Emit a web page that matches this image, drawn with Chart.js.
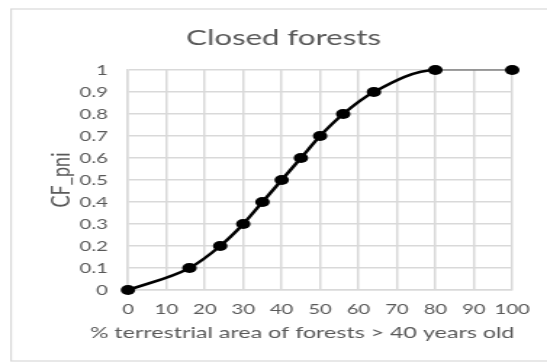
<!DOCTYPE html>
<html>
<head>
<meta charset="utf-8">
<script src="https://cdn.jsdelivr.net/npm/chart.js@4/dist/chart.umd.min.js"></script>
<style>
  html, body { margin: 0; padding: 0; background: #ffffff; overflow: hidden; }
  /* the chart is laid out on a narrower canvas and widened to 547px */
  #wrap { position: absolute; left: 0; top: 0; width: 377px; height: 363px;
          transform: scaleX(1.451); transform-origin: 0 0; }
  #c { display: block; }
</style>
</head>
<body>
<div id="wrap"><canvas id="c" width="377" height="363"></canvas></div>
<script>
// Share of terrestrial forest area older than 40 years vs. the CF_pni index
const ageShare = [0, 16, 24, 30, 35, 40, 45, 50, 56, 64, 80, 100];
const cfPni    = [0, 0.1, 0.2, 0.3, 0.4, 0.5, 0.6, 0.7, 0.8, 0.9, 1, 1];

const xTicks = { min: 0, max: 100, step: 10 };
const yTicks = { min: 0, max: 1, step: 0.1 };

const chartTitle = 'Closed forests';
const xTitle = '% terrestrial area of forests > 40 years old';
const yTitle = 'CF_pni';

const textColor = '#595959';
const gridColor = '#d9d9d9';
const fontFamily = 'Lato, "Open Sans", sans-serif';

// white background and a light frame around the chart object
const framePlugin = {
  id: 'frame',
  beforeDraw(chart) {
    const ctx = chart.ctx;
    ctx.save();
    ctx.fillStyle = '#ffffff';
    ctx.fillRect(0, 0, chart.width, chart.height);
    ctx.strokeStyle = gridColor;
    ctx.lineWidth = 1.2;
    ctx.strokeRect(7.6, 9, chart.width + 10, 352);
    ctx.restore();
  }
};

// horizontal axis title, set a little left of the plot centre
const xTitlePlugin = {
  id: 'xTitle',
  afterDraw(chart) {
    const area = chart.chartArea;
    const ctx = chart.ctx;
    ctx.save();
    ctx.fillStyle = textColor;
    ctx.font = '16px ' + fontFamily;
    ctx.textAlign = 'center';
    ctx.textBaseline = 'middle';
    ctx.fillText(xTitle, (area.left + area.right) / 2 - 12.4, area.bottom + 43);
    ctx.restore();
  }
};

const points = ageShare.map((x, i) => ({ x: x, y: cfPni[i] }));
const lastSeg = ageShare.length - 2;

new Chart(document.getElementById('c'), {
  type: 'line',
  data: {
    datasets: [{
      data: points,
      borderColor: '#000000',
      borderWidth: 2.5,
      pointRadius: 5,
      pointHoverRadius: 5,
      pointBackgroundColor: '#000000',
      pointBorderColor: '#000000',
      pointBorderWidth: 0,
      cubicInterpolationMode: 'monotone',
      fill: false,
      clip: false,
      segment: {
        borderWidth: ctx => (ctx.p0DataIndex === lastSeg ? 1.2 : 2.5),
        borderColor: ctx => (ctx.p0DataIndex === lastSeg ? '#555555' : '#000000')
      }
    }]
  },
  options: {
    responsive: false,
    animation: false,
    events: [],
    layout: { padding: { left: 37.8, right: 24, top: 0, bottom: 13 } },
    plugins: {
      legend: { display: false },
      tooltip: { enabled: false },
      title: {
        display: true,
        text: chartTitle,
        color: textColor,
        font: { family: fontFamily, size: 21.5, weight: 'normal' },
        padding: { top: 25, bottom: 19.2 }
      }
    },
    scales: {
      x: {
        type: 'linear',
        min: xTicks.min,
        max: xTicks.max,
        ticks: {
          stepSize: xTicks.step,
          autoSkip: false,
          color: textColor,
          font: { family: fontFamily, size: 14 },
          padding: 11,
          maxRotation: 0
        },
        grid: { color: gridColor, lineWidth: 1.5, drawTicks: false },
        border: { color: gridColor, width: 1.5 },
        afterFit(scale) { scale.height = 60; }
      },
      y: {
        min: yTicks.min,
        max: yTicks.max,
        ticks: {
          stepSize: yTicks.step,
          autoSkip: false,
          color: textColor,
          font: { family: fontFamily, size: 14 },
          padding: 13.8,
          callback: v => String(Number(v.toFixed(1)))
        },
        grid: { color: gridColor, lineWidth: 1.5, drawTicks: false },
        border: { color: gridColor, width: 1.5 },
        title: {
          display: true,
          text: yTitle,
          color: textColor,
          font: { family: fontFamily, size: 18 },
          padding: { top: -6.5, bottom: 0 }
        },
        afterFit(scale) { scale.width = 50.4; }
      }
    }
  },
  plugins: [framePlugin, xTitlePlugin]
});
</script>
</body>
</html>
